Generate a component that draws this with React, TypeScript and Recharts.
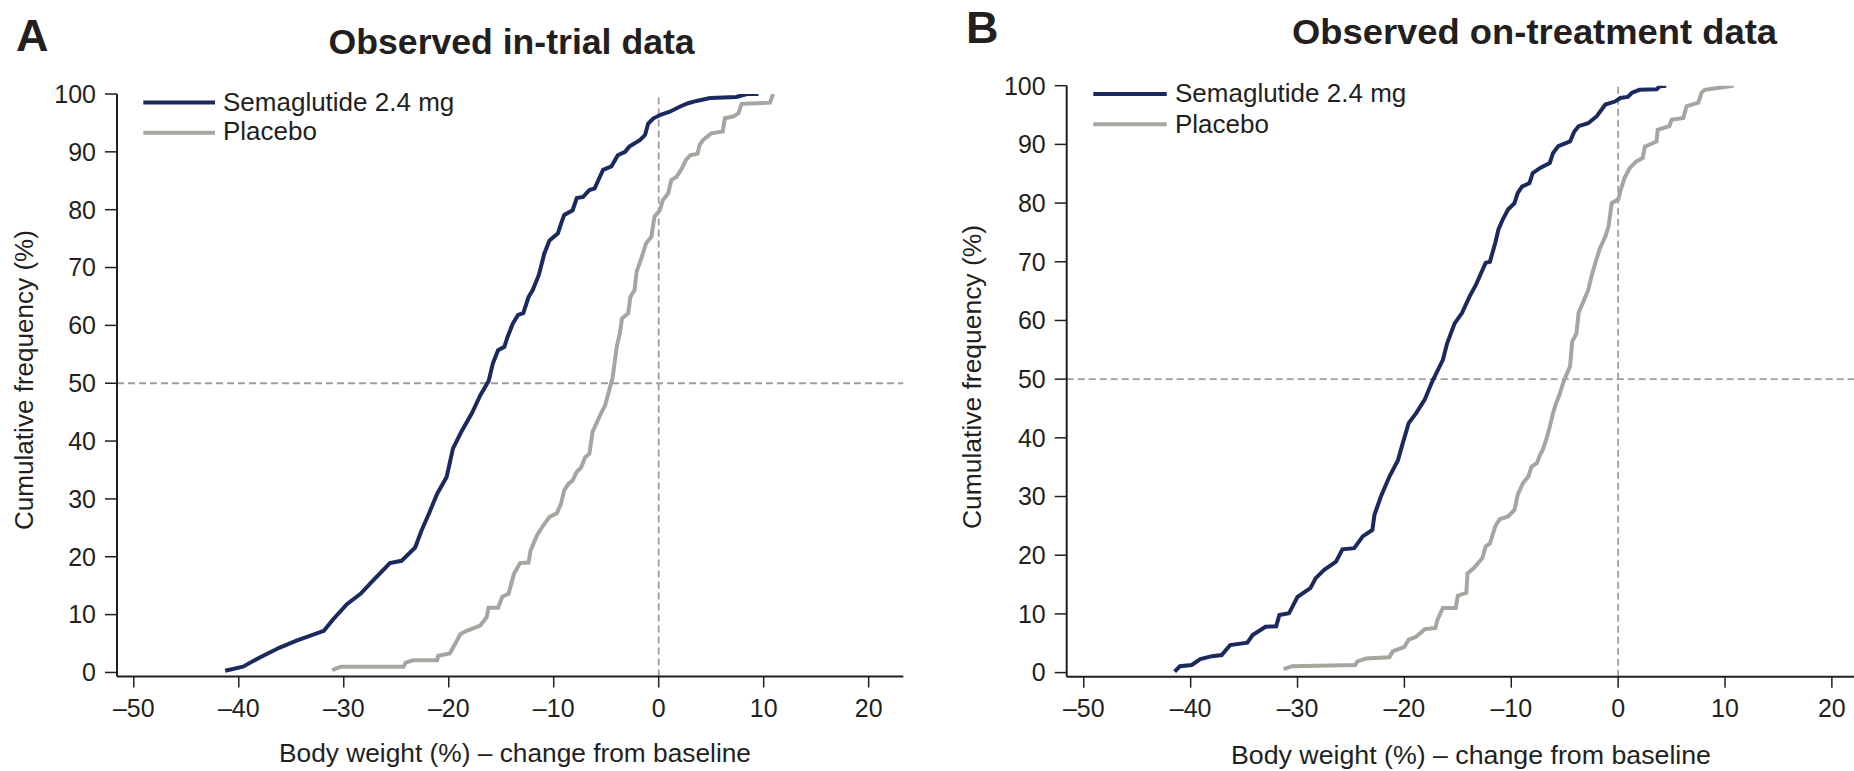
import React from 'react';
import { LineChart, Line, XAxis, YAxis, ReferenceLine } from 'recharts';

const semaA_x = [-41.3, -39.6, -38.0, -36.1, -34.5, -31.9, -31.0, -29.7, -28.4, -27.2, -25.6, -24.5, -23.2, -22.6, -21.9, -21.1, -20.2, -19.6, -18.8, -17.8, -17.0, -16.2, -15.8, -15.3, -14.7, -14.4, -13.9, -13.4, -12.9, -12.4, -12.0, -11.4, -10.9, -10.4, -9.6, -9.3, -9.0, -8.2, -7.8, -7.2, -6.6, -6.1, -5.6, -5.3, -4.5, -3.9, -3.2, -2.8, -1.8, -1.3, -1.0, -0.5, 0.3, 1.0, 2.0, 2.8, 3.6, 4.9, 7.4, 8.4, 9.5];
const semaA_y = [0.3, 1.0, 2.6, 4.3, 5.5, 7.2, 9.2, 11.8, 13.6, 15.9, 18.9, 19.3, 21.6, 24.5, 27.4, 30.9, 33.8, 38.7, 41.6, 44.8, 47.9, 50.4, 53.4, 55.7, 56.3, 58.0, 60.3, 61.8, 62.1, 64.9, 66.1, 68.8, 72.4, 74.7, 75.9, 77.6, 79.1, 79.9, 82.0, 82.2, 83.4, 83.7, 85.7, 86.9, 87.5, 89.4, 90.0, 90.9, 92.0, 92.9, 94.9, 95.8, 96.5, 96.9, 97.8, 98.4, 98.8, 99.3, 99.5, 100, 100];

const placA_x = [-31.1, -30.3, -24.3, -24.1, -23.4, -21.1, -21.0, -19.9, -19.4, -18.9, -18.3, -17.0, -16.4, -16.2, -15.3, -14.9, -14.3, -13.8, -13.2, -12.4, -12.2, -11.6, -11.0, -10.4, -9.7, -9.3, -9.0, -8.6, -8.2, -7.8, -7.4, -7.0, -6.6, -6.3, -5.8, -5.5, -5.1, -4.8, -4.5, -4.4, -4.0, -3.7, -3.5, -2.9, -2.7, -2.3, -2.1, -1.6, -1.2, -0.7, -0.4, 0.1, 0.4, 0.9, 1.2, 1.7, 2.2, 2.6, 3.0, 3.7, 3.9, 4.2, 5.0, 6.1, 6.3, 7.1, 7.6, 7.9, 10.6, 10.9];
const placA_y = [0.4, 1.0, 1.0, 1.7, 2.1, 2.1, 2.9, 3.3, 4.9, 6.6, 7.2, 8.1, 9.5, 11.2, 11.2, 13.1, 13.6, 17.0, 18.9, 19.0, 21.1, 23.7, 25.4, 26.9, 27.5, 29.2, 31.5, 32.6, 33.2, 34.7, 35.4, 37.2, 37.8, 41.6, 43.6, 44.8, 46.2, 48.2, 50.2, 50.8, 56.3, 58.6, 61.2, 62.1, 64.9, 66.1, 69.3, 71.9, 74.2, 75.3, 78.8, 79.9, 81.7, 82.8, 85.1, 85.7, 87.1, 88.6, 89.4, 89.7, 91.2, 92.0, 93.2, 93.5, 95.8, 96.1, 96.7, 98.3, 98.5, 100];

// Panel B – observed on-treatment data
const semaB_x = [-41.5, -41.0, -39.9, -39.1, -38.0, -37.1, -36.3, -34.7, -34.2, -33.0, -32.0, -31.7, -30.8, -30.0, -28.8, -28.3, -27.5, -26.4, -25.8, -24.7, -23.9, -23.0, -22.8, -22.2, -21.4, -20.6, -20.2, -19.6, -18.9, -18.1, -17.4, -16.4, -16.0, -15.3, -14.6, -13.9, -13.3, -12.4, -12.0, -11.5, -11.2, -10.8, -10.3, -9.7, -9.4, -9.0, -8.3, -8.0, -7.3, -6.4, -6.1, -5.6, -4.5, -4.1, -3.7, -2.8, -2.0, -1.2, -0.3, 0.2, 0.9, 1.3, 2.0, 3.6, 3.9, 4.5];
const semaB_y = [0.15, 1.1, 1.3, 2.3, 2.8, 3.0, 4.7, 5.1, 6.4, 7.8, 7.9, 9.8, 10.1, 12.9, 14.4, 16.1, 17.5, 18.9, 21.0, 21.2, 23.2, 24.3, 26.9, 30.0, 33.4, 36.2, 38.8, 42.5, 44.2, 46.5, 49.6, 53.3, 56.1, 59.5, 61.3, 64.1, 66.1, 69.8, 70.0, 73.2, 75.5, 77.2, 78.9, 80.0, 81.7, 82.8, 83.4, 85.1, 86.0, 86.8, 88.5, 89.7, 90.5, 92.2, 93.1, 93.6, 94.8, 96.8, 97.3, 97.9, 98.1, 98.8, 99.3, 99.4, 99.9, 100];

const placB_x = [-31.3, -30.5, -24.6, -24.4, -23.6, -21.4, -21.1, -20.0, -19.6, -18.9, -18.1, -17.1, -16.9, -16.4, -15.2, -15.0, -14.2, -14.1, -13.5, -12.7, -12.4, -12.0, -11.5, -11.1, -10.3, -9.7, -9.4, -8.9, -8.4, -8.1, -7.6, -7.3, -7.0, -6.7, -6.4, -6.1, -5.8, -5.5, -5.1, -4.5, -4.3, -3.9, -3.7, -3.3, -2.8, -2.5, -2.1, -1.7, -1.2, -0.9, -0.6, 0.0, 0.3, 0.6, 1.1, 1.7, 2.3, 2.5, 3.6, 3.7, 4.8, 5.0, 6.1, 6.4, 7.5, 7.8, 8.1, 10.8];
const placB_y = [0.6, 1.1, 1.3, 1.9, 2.4, 2.6, 3.6, 4.4, 5.6, 6.1, 7.4, 7.6, 9.0, 11.0, 11.0, 13.1, 13.6, 16.9, 17.8, 19.5, 21.5, 22.0, 24.9, 26.1, 26.6, 27.7, 30.3, 32.3, 33.4, 35.1, 35.7, 37.1, 38.2, 39.9, 41.9, 44.2, 45.9, 47.3, 49.6, 52.2, 56.4, 57.8, 61.3, 63.0, 65.2, 67.5, 70.0, 72.3, 74.3, 76.0, 80.0, 80.6, 82.6, 84.3, 86.0, 87.1, 87.7, 89.6, 90.5, 92.5, 93.1, 94.2, 94.5, 96.5, 97.1, 98.8, 99.3, 100];

const xTicks = [-50, -40, -30, -20, -10, 0, 10, 20];
const yTicks = [0, 10, 20, 30, 40, 50, 60, 70, 80, 90, 100];

const NAVY = '#1b2a5e';
const GREY = '#a8a5a0';
const INK = '#231f20';
const DASH = '#a19e99';
const FONT = "'Liberation Sans', Arial, sans-serif";

const zip = (xs: number[], ys: number[]) => xs.map((x, i) => ({ x, y: ys[i] }));
const fmtX = (v: number) => (v < 0 ? `\u2013${-v}` : `${v}`);

interface PanelProps {
  left: number;
  width: number;
  margin: { top: number; right: number; bottom: number; left: number };
  xMax: number;
  sema: { x: number; y: number }[];
  placebo: { x: number; y: number }[];
}

function Panel({ left, width, margin, xMax, sema, placebo }: PanelProps) {
  const tick = { fill: INK, fontSize: 25, fontFamily: FONT };
  return (
    <div style={{ position: 'absolute', left, top: 0 }}>
      <LineChart width={width} height={771} margin={margin}>
        <XAxis
          type="number"
          dataKey="x"
          domain={[-51.6, xMax]}
          ticks={xTicks}
          interval={0}
          allowDataOverflow
          tickFormatter={fmtX}
          tickSize={11}
          tickMargin={12}
          height={60}
          tick={tick}
          stroke={INK}
          axisLine={{ stroke: INK, strokeWidth: 2 }}
          tickLine={{ stroke: INK, strokeWidth: 1.5 }}
        />
        <YAxis
          type="number"
          domain={[-0.7, 100]}
          ticks={yTicks}
          interval={0}
          allowDataOverflow
          tickSize={12}
          tickMargin={9}
          width={80}
          tick={tick}
          stroke={INK}
          axisLine={{ stroke: INK, strokeWidth: 2 }}
          tickLine={{ stroke: INK, strokeWidth: 1.5 }}
        />
        <ReferenceLine y={50} stroke={DASH} strokeWidth={1.8} strokeDasharray="7 4" />
        <ReferenceLine x={0} stroke={DASH} strokeWidth={1.8} strokeDasharray="7 4" />
        <Line data={placebo} dataKey="y" type="linear" stroke={GREY} strokeWidth={4} dot={false} isAnimationActive={false} />
        <Line data={sema} dataKey="y" type="linear" stroke={NAVY} strokeWidth={4} dot={false} isAnimationActive={false} />
      </LineChart>
    </div>
  );
}

export default function App() {
  return (
    <div style={{ position: 'absolute', left: 0, top: 0, width: 1854, height: 771, overflow: 'hidden', background: '#fff' }}>
      <Panel
        left={0}
        width={1000}
        margin={{ top: 94, right: 96.7, bottom: 34.5, left: 37 }}
        xMax={23.3}
        sema={zip(semaA_x, semaA_y)}
        placebo={zip(placA_x, placA_y)}
      />
      <Panel
        left={980}
        width={874}
        margin={{ top: 85.7, right: 0, bottom: 34.3, left: 6.7 }}
        xMax={22.07}
        sema={zip(semaB_x, semaB_y)}
        placebo={zip(placB_x, placB_y)}
      />
      <svg width={1854} height={771} style={{ position: 'absolute', left: 0, top: 0, pointerEvents: 'none' }} fontFamily={FONT} fill={INK}>
        {/* panel letters and titles */}
        <text x={16} y={51} fontSize={45} fontWeight="bold">A</text>
        <text x={966} y={43} fontSize={45} fontWeight="bold">B</text>
        <text x={328.6} y={54} fontSize={35} fontWeight="bold" textLength={366} lengthAdjust="spacingAndGlyphs">Observed in-trial data</text>
        <text x={1292} y={44} fontSize={35} fontWeight="bold" textLength={485} lengthAdjust="spacingAndGlyphs">Observed on-treatment data</text>

        {/* legends */}
        <line x1={143.3} x2={215} y1={102.5} y2={102.5} stroke={NAVY} strokeWidth={4} />
        <text x={223} y={110.7} fontSize={26}>Semaglutide 2.4 mg</text>
        <line x1={143.3} x2={215} y1={132.7} y2={132.7} stroke={GREY} strokeWidth={4} />
        <text x={223} y={140} fontSize={26}>Placebo</text>
        <line x1={1093.3} x2={1166.7} y1={94} y2={94} stroke={NAVY} strokeWidth={4} />
        <text x={1175} y={102.3} fontSize={26}>Semaglutide 2.4 mg</text>
        <line x1={1093.3} x2={1166.7} y1={124.3} y2={124.3} stroke={GREY} strokeWidth={4} />
        <text x={1175} y={132.7} fontSize={26}>Placebo</text>

        {/* axis titles */}
        <text x={279} y={762} fontSize={25} textLength={472} lengthAdjust="spacingAndGlyphs">Body weight (%) – change from baseline</text>
        <text x={1231} y={764} fontSize={25} textLength={480} lengthAdjust="spacingAndGlyphs">Body weight (%) – change from baseline</text>
        <text x={33} y={380} fontSize={26} textAnchor="middle" textLength={300} lengthAdjust="spacingAndGlyphs" transform="rotate(-90 33 380)">Cumulative frequency (%)</text>
        <text x={981} y={377} fontSize={26} textAnchor="middle" textLength={304} lengthAdjust="spacingAndGlyphs" transform="rotate(-90 981 377)">Cumulative frequency (%)</text>
      </svg>
    </div>
  );
}
